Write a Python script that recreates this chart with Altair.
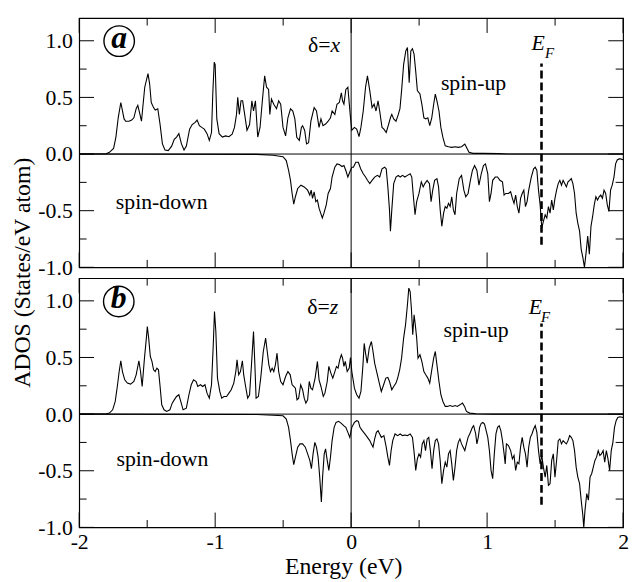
import altair as alt
import pandas as pd

# ---------------- axis ticks ----------------
x_major = [-2, -1, 0, 1, 2]
x_minor = [-1.5, -0.5, 0.5, 1.5]
y_major = [-1.0, -0.5, 0.0, 0.5, 1.0]
y_minor = [-0.75, -0.25, 0.25, 0.75]
E_F = 1.4
ef_span = [-0.8, 0.8]

# ---------------- panel (a): delta = x ----------------
a_up_E = [-2.0, -1.802, -1.778, -1.747, -1.730, -1.713, -1.694, -1.670, -1.658, -1.634, -1.614, -1.598,
          -1.581, -1.569, -1.557, -1.542, -1.518, -1.494, -1.482, -1.470, -1.453, -1.441, -1.422, -1.405,
          -1.388, -1.369, -1.345, -1.320, -1.301, -1.284, -1.267, -1.248, -1.229, -1.212, -1.188, -1.169,
          -1.147, -1.133, -1.116, -1.099, -1.080, -1.060, -1.043, -1.027, -1.017, -1.007, -1.000, -0.988,
          -0.971, -0.947, -0.923, -0.899, -0.875, -0.858, -0.843, -0.834, -0.822, -0.810, -0.798, -0.783,
          -0.766, -0.747, -0.730, -0.718, -0.704, -0.687, -0.670, -0.653, -0.636, -0.622, -0.607, -0.598,
          -0.586, -0.569, -0.549, -0.533, -0.518, -0.501, -0.482, -0.465, -0.446, -0.429, -0.414, -0.400,
          -0.381, -0.366, -0.357, -0.342, -0.328, -0.313, -0.296, -0.272, -0.255, -0.236, -0.222, -0.207,
          -0.188, -0.169, -0.152, -0.140, -0.120, -0.104, -0.087, -0.072, -0.063, -0.053, -0.039, -0.024,
          -0.007, 0.005, 0.024, 0.041, 0.058, 0.072, 0.089, 0.106, 0.120, 0.137, 0.154, 0.169, 0.183,
          0.198, 0.210, 0.227, 0.241, 0.258, 0.275, 0.289, 0.299, 0.313, 0.330, 0.347, 0.359, 0.371, 0.386,
          0.402, 0.414, 0.427, 0.439, 0.451, 0.463, 0.475, 0.487, 0.506, 0.520, 0.535, 0.549, 0.564, 0.578,
          0.593, 0.607, 0.619, 0.631, 0.646, 0.660, 0.675, 0.692, 0.716, 0.740, 0.764, 0.788, 0.812, 0.836,
          0.848, 0.867, 0.896, 0.969, 1.089, 1.149, 2.0]
a_up_v = [0.0, 0.003, 0.015, 0.05, 0.15, 0.32, 0.455, 0.31, 0.29, 0.29, 0.30, 0.32,
          0.40, 0.43, 0.37, 0.29, 0.59, 0.71, 0.62, 0.455, 0.41, 0.388, 0.40, 0.26,
          0.09, 0.035, 0.03, 0.07, 0.13, 0.15, 0.18, 0.09, 0.035, 0.07, 0.22, 0.26,
          0.28, 0.30, 0.25, 0.235, 0.22, 0.18, 0.12, 0.19, 0.55, 0.81, 0.79, 0.31,
          0.18, 0.15, 0.16, 0.153, 0.176, 0.235, 0.35, 0.50, 0.35, 0.47, 0.47, 0.35,
          0.21, 0.26, 0.47, 0.38, 0.47, 0.15, 0.235, 0.47, 0.69, 0.59, 0.57, 0.35,
          0.485, 0.44, 0.40, 0.47, 0.44, 0.235, 0.16, 0.32, 0.40, 0.38, 0.31, 0.147,
          0.12, 0.235, 0.25, 0.21, 0.09, 0.10, 0.29, 0.41, 0.38, 0.235, 0.31, 0.25,
          0.265, 0.29, 0.32, 0.38, 0.35, 0.44, 0.455, 0.54, 0.47, 0.44, 0.57, 0.59,
          0.35, 0.21, 0.235, 0.22, 0.153, 0.235, 0.38, 0.59, 0.69, 0.56, 0.41, 0.44, 0.38,
          0.47, 0.38, 0.235, 0.22, 0.19, 0.26, 0.32, 0.35, 0.31, 0.29, 0.35, 0.40, 0.56, 0.79,
          0.91, 0.94, 0.63, 0.91, 0.93, 0.88, 0.73, 0.56, 0.53, 0.44, 0.32, 0.31, 0.32, 0.25,
          0.32, 0.44, 0.53, 0.47, 0.38, 0.235, 0.147, 0.073, 0.065, 0.059, 0.065, 0.059, 0.065, 0.088,
          0.059, 0.015, 0.006, 0.006, 0.004, 0.0, 0.0]

a_dn_E = [-2.0, -0.694, -0.573, -0.501, -0.477, -0.460, -0.446, -0.434, -0.422, -0.410, -0.393, -0.369,
          -0.345, -0.320, -0.304, -0.294, -0.284, -0.272, -0.260, -0.248, -0.236, -0.224, -0.212, -0.200,
          -0.183, -0.169, -0.152, -0.140, -0.120, -0.104, -0.087, -0.067, -0.053, -0.039, -0.024, -0.010,
          0.005, 0.017, 0.034, 0.053, 0.070, 0.089, 0.106, 0.120, 0.137, 0.154, 0.173, 0.193, 0.210, 0.227,
          0.246, 0.258, 0.270, 0.282, 0.289, 0.299, 0.313, 0.330, 0.347, 0.361, 0.378, 0.395, 0.414, 0.434,
          0.446, 0.458, 0.470, 0.482, 0.499, 0.516, 0.530, 0.542, 0.559, 0.576, 0.588, 0.600, 0.614, 0.631,
          0.643, 0.655, 0.667, 0.680, 0.692, 0.704, 0.716, 0.728, 0.740, 0.752, 0.764, 0.776, 0.795, 0.812,
          0.829, 0.843, 0.860, 0.877, 0.892, 0.908, 0.925, 0.940, 0.957, 0.973, 0.988, 1.005, 1.017, 1.029,
          1.041, 1.060, 1.077, 1.094, 1.113, 1.125, 1.137, 1.157, 1.173, 1.186, 1.198, 1.210, 1.222, 1.234,
          1.246, 1.258, 1.270, 1.282, 1.294, 1.306, 1.325, 1.342, 1.354, 1.366, 1.378, 1.390, 1.402, 1.414,
          1.427, 1.439, 1.451, 1.463, 1.475, 1.487, 1.499, 1.511, 1.523, 1.535, 1.547, 1.559, 1.571, 1.583,
          1.595, 1.607, 1.619, 1.631, 1.643, 1.655, 1.667, 1.680, 1.692, 1.704, 1.716, 1.728, 1.740, 1.752,
          1.764, 1.776, 1.788, 1.800, 1.812, 1.824, 1.836, 1.848, 1.860, 1.872, 1.884, 1.896, 1.908, 1.920,
          1.933, 1.945, 1.957, 1.971, 1.981, 2.0]
a_dn_v = [0.0, -0.003, -0.01, -0.023, -0.058, -0.145, -0.232, -0.348, -0.443, -0.377, -0.304, -0.275,
          -0.29, -0.319, -0.362, -0.319, -0.391, -0.333, -0.42, -0.406, -0.478, -0.522, -0.565, -0.522,
          -0.449, -0.348, -0.304, -0.203, -0.116, -0.087, -0.093, -0.11, -0.101, -0.145, -0.203, -0.159,
          -0.116, -0.116, -0.072, -0.072, -0.130, -0.174, -0.203, -0.232, -0.261, -0.232, -0.203, -0.188, -0.203, -0.130,
          -0.116, -0.130, -0.290, -0.493, -0.681, -0.493, -0.261, -0.203, -0.188, -0.203, -0.188, -0.203, -0.188, -0.174,
          -0.203, -0.377, -0.536, -0.42, -0.348, -0.246, -0.290, -0.261, -0.232, -0.261, -0.420, -0.319, -0.232, -0.217,
          -0.290, -0.493, -0.638, -0.522, -0.464, -0.478, -0.435, -0.464, -0.377, -0.493, -0.536, -0.348, -0.217, -0.188,
          -0.319, -0.377, -0.348, -0.232, -0.145, -0.101, -0.145, -0.275, -0.174, -0.101, -0.087, -0.174, -0.420, -0.348,
          -0.232, -0.203, -0.203, -0.232, -0.246, -0.362, -0.348, -0.348, -0.333, -0.391, -0.435, -0.362, -0.464, -0.522,
          -0.391, -0.348, -0.319, -0.464, -0.420, -0.319, -0.203, -0.130, -0.116, -0.145, -0.319, -0.449, -0.652, -0.594,
          -0.536, -0.565, -0.464, -0.522, -0.406, -0.493, -0.391, -0.319, -0.261, -0.232, -0.275, -0.232, -0.261, -0.290,
          -0.246, -0.232, -0.217, -0.261, -0.348, -0.522, -0.609, -0.681, -0.841, -0.913, -1.0, -0.870, -0.725, -0.884,
          -0.638, -0.551, -0.449, -0.377, -0.406, -0.377, -0.362, -0.391, -0.319, -0.348, -0.449, -0.507, -0.319, -0.275,
          -0.203, -0.087, -0.052, -0.043, -0.043, -0.05]

# ---------------- panel (b): delta = z ----------------
b_up_E = [-2.0, -1.802, -1.778, -1.754, -1.735, -1.718, -1.706, -1.694, -1.682, -1.665, -1.646, -1.622,
          -1.598, -1.581, -1.561, -1.549, -1.537, -1.520, -1.506, -1.499, -1.489, -1.477, -1.465, -1.453,
          -1.441, -1.429, -1.417, -1.405, -1.393, -1.376, -1.357, -1.333, -1.316, -1.301, -1.284, -1.267,
          -1.253, -1.236, -1.212, -1.193, -1.176, -1.159, -1.140, -1.128, -1.108, -1.092, -1.075, -1.060,
          -1.043, -1.027, -1.014, -1.005, -0.995, -0.983, -0.966, -0.952, -0.935, -0.916, -0.899, -0.882,
          -0.863, -0.848, -0.839, -0.827, -0.814, -0.800, -0.790, -0.776, -0.761, -0.747, -0.733, -0.718,
          -0.708, -0.699, -0.682, -0.665, -0.646, -0.629, -0.617, -0.605, -0.593, -0.581, -0.569, -0.557,
          -0.545, -0.533, -0.518, -0.501, -0.482, -0.465, -0.448, -0.434, -0.422, -0.410, -0.398, -0.386,
          -0.371, -0.357, -0.345, -0.333, -0.320, -0.308, -0.296, -0.284, -0.265, -0.248, -0.236, -0.222,
          -0.205, -0.193, -0.176, -0.164, -0.149, -0.135, -0.123, -0.108, -0.096, -0.084, -0.072, -0.063,
          -0.053, -0.043, -0.029, -0.014, -0.005, 0.005, 0.024, 0.041, 0.058, 0.072, 0.087, 0.096, 0.106,
          0.118, 0.133, 0.149, 0.161, 0.173, 0.193, 0.210, 0.222, 0.239, 0.255, 0.270, 0.282, 0.299, 0.313,
          0.330, 0.342, 0.357, 0.371, 0.386, 0.400, 0.414, 0.424, 0.434, 0.443, 0.453, 0.463, 0.472, 0.482,
          0.492, 0.506, 0.520, 0.535, 0.549, 0.564, 0.578, 0.593, 0.607, 0.619, 0.631, 0.646, 0.660, 0.675,
          0.692, 0.708, 0.728, 0.747, 0.764, 0.781, 0.800, 0.819, 0.834, 0.848, 0.872, 0.920, 1.041, 2.0]
b_up_v = [0.0, 0.003, 0.009, 0.038, 0.112, 0.259, 0.376, 0.471, 0.376, 0.303, 0.274, 0.265,
          0.288, 0.347, 0.471, 0.376, 0.244, 0.494, 0.671, 0.774, 0.671, 0.509, 0.465, 0.391,
          0.376, 0.406, 0.391, 0.244, 0.082, 0.038, 0.024, 0.038, 0.097, 0.126, 0.156, 0.171,
          0.112, 0.038, 0.053, 0.171, 0.259, 0.303, 0.288, 0.244, 0.259, 0.244, 0.259, 0.185,
          0.141, 0.259, 0.612, 0.906, 0.729, 0.318, 0.200, 0.141, 0.156, 0.156, 0.185, 0.215,
          0.274, 0.376, 0.479, 0.347, 0.376, 0.471, 0.347, 0.244, 0.141, 0.171, 0.435, 0.729,
          0.435, 0.141, 0.156, 0.318, 0.553, 0.671, 0.553, 0.435, 0.376, 0.406, 0.376, 0.435,
          0.538, 0.376, 0.288, 0.259, 0.332, 0.376, 0.347, 0.259, 0.244, 0.229, 0.126, 0.141,
          0.259, 0.215, 0.141, 0.097, 0.126, 0.288, 0.229, 0.215, 0.318, 0.465, 0.303, 0.244,
          0.156, 0.185, 0.288, 0.421, 0.362, 0.318, 0.362, 0.421, 0.406, 0.479, 0.524, 0.494,
          0.421, 0.465, 0.376, 0.406, 0.500, 0.376, 0.229, 0.171, 0.141, 0.200, 0.435, 0.624, 0.538,
          0.450, 0.582, 0.641, 0.553, 0.450, 0.347, 0.259, 0.200, 0.259, 0.318, 0.324, 0.288, 0.215, 0.244,
          0.274, 0.318, 0.391, 0.494, 0.671, 0.788, 0.965, 1.112, 1.082, 0.935, 0.700, 0.876, 0.788, 0.671,
          0.494, 0.524, 0.465, 0.376, 0.347, 0.318, 0.274, 0.391, 0.494, 0.553, 0.435, 0.288, 0.171, 0.112,
          0.068, 0.068, 0.076, 0.068, 0.076, 0.068, 0.082, 0.097, 0.068, 0.024, 0.009, 0.003, 0.0, 0.0]

b_dn_E = [-2.0, -0.694, -0.573, -0.501, -0.477, -0.460, -0.446, -0.434, -0.422, -0.410, -0.393, -0.376,
          -0.357, -0.337, -0.320, -0.304, -0.292, -0.280, -0.267, -0.255, -0.243, -0.231, -0.219, -0.210,
          -0.198, -0.188, -0.176, -0.164, -0.152, -0.140, -0.125, -0.111, -0.092, -0.072, -0.055, -0.039,
          -0.024, -0.010, 0.005, 0.024, 0.041, 0.053, 0.065, 0.082, 0.101, 0.120, 0.137, 0.149, 0.161, 0.173,
          0.186, 0.198, 0.210, 0.222, 0.241, 0.258, 0.270, 0.282, 0.294, 0.306, 0.323, 0.342, 0.361, 0.378,
          0.395, 0.414, 0.434, 0.451, 0.463, 0.475, 0.487, 0.499, 0.511, 0.523, 0.535, 0.547, 0.559, 0.571,
          0.583, 0.595, 0.607, 0.619, 0.631, 0.643, 0.655, 0.667, 0.680, 0.692, 0.704, 0.716, 0.728, 0.740,
          0.752, 0.764, 0.776, 0.788, 0.800, 0.812, 0.824, 0.836, 0.848, 0.860, 0.872, 0.892, 0.901, 0.916,
          0.925, 0.935, 0.945, 0.957, 0.969, 0.981, 0.993, 1.005, 1.017, 1.029, 1.041, 1.053, 1.065, 1.077,
          1.089, 1.101, 1.113, 1.125, 1.133, 1.142, 1.157, 1.173, 1.186, 1.198, 1.210, 1.222, 1.234, 1.246,
          1.258, 1.270, 1.282, 1.294, 1.306, 1.318, 1.330, 1.342, 1.354, 1.366, 1.378, 1.390, 1.402, 1.414,
          1.427, 1.439, 1.451, 1.463, 1.475, 1.487, 1.499, 1.511, 1.523, 1.535, 1.547, 1.559, 1.571, 1.583,
          1.595, 1.607, 1.619, 1.631, 1.643, 1.655, 1.667, 1.680, 1.692, 1.704, 1.711, 1.720, 1.733, 1.745,
          1.757, 1.769, 1.781, 1.793, 1.805, 1.817, 1.829, 1.841, 1.853, 1.865, 1.877, 1.889, 1.901, 1.913,
          1.925, 1.937, 1.949, 1.961, 1.976, 2.0]
b_dn_v = [0.0, -0.003, -0.01, -0.015, -0.044, -0.117, -0.234, -0.351, -0.447, -0.380, -0.292, -0.263,
          -0.263, -0.292, -0.351, -0.409, -0.482, -0.351, -0.249, -0.292, -0.380, -0.556, -0.775, -0.556,
          -0.351, -0.307, -0.409, -0.497, -0.380, -0.234, -0.117, -0.073, -0.064, -0.082, -0.102, -0.117,
          -0.161, -0.205, -0.117, -0.073, -0.058, -0.064, -0.117, -0.146, -0.175, -0.205, -0.234, -0.263, -0.292, -0.219,
          -0.161, -0.146, -0.175, -0.205, -0.190, -0.292, -0.380, -0.453, -0.322, -0.234, -0.175, -0.190, -0.175, -0.190,
          -0.184, -0.190, -0.175, -0.205, -0.336, -0.497, -0.395, -0.351, -0.380, -0.263, -0.234, -0.322, -0.219, -0.205,
          -0.322, -0.482, -0.322, -0.234, -0.219, -0.263, -0.409, -0.614, -0.497, -0.424, -0.468, -0.351, -0.322, -0.439,
          -0.585, -0.468, -0.322, -0.249, -0.219, -0.263, -0.292, -0.322, -0.263, -0.205, -0.175, -0.117, -0.102, -0.175,
          -0.263, -0.205, -0.117, -0.082, -0.073, -0.088, -0.146, -0.205, -0.322, -0.497, -0.570, -0.351, -0.175, -0.117,
          -0.102, -0.146, -0.234, -0.351, -0.439, -0.263, -0.278, -0.322, -0.395, -0.365, -0.497, -0.424, -0.439, -0.292,
          -0.205, -0.292, -0.351, -0.468, -0.292, -0.205, -0.175, -0.132, -0.102, -0.161, -0.322, -0.439, -0.365, -0.468,
          -0.556, -0.453, -0.629, -0.614, -0.409, -0.351, -0.556, -0.409, -0.234, -0.219, -0.263, -0.234, -0.249, -0.263,
          -0.234, -0.190, -0.205, -0.234, -0.322, -0.468, -0.556, -0.614, -0.760, -0.892, -1.0, -0.848, -0.702, -0.760,
          -0.556, -0.526, -0.468, -0.409, -0.380, -0.322, -0.365, -0.351, -0.322, -0.424, -0.322, -0.395, -0.497, -0.322,
          -0.249, -0.117, -0.058, -0.029, -0.023, -0.03]

# ---------------- annotations (data coordinates) ----------------
panel_letters = ["a", "b"]
delta_axis = ["x", "z"]
letter_pos = [(-1.706, 0.997), (-1.709, 0.994)]
delta_pos = [(-0.151, 0.903), (-0.158, 0.883)]
spinup_pos = [(0.900, 0.568), (0.919, 0.679)]
spindown_pos = [(-1.393, -0.487), (-1.388, -0.458)]
ef_E_pos = [(1.326, 0.918), (1.307, 0.883)]
ef_F_pos = [(1.425, 0.848), (1.397, 0.81)]

W, H = 550, 252
FONT = "Liberation Serif"
xs = alt.Scale(domain=[-2, 2], nice=False, zero=False)
ys = alt.Scale(domain=[-1.0, 1.2], nice=False, zero=False)
MAJ, MIN = 15, 7.5
NEG_X = "datum.value < 0 ? '-' + format(-datum.value, 'd') : format(datum.value, 'd')"
NEG_Y = "datum.value < 0 ? '-' + format(-datum.value, '.1f') : format(datum.value, '.1f')"


def make_panel(i, up_E, up_v, dn_E, dn_v, bottom):
    if bottom:
        xaxis = alt.Axis(values=x_major, labelExpr=NEG_X, labelFlush=False, ticks=False, tickSize=0,
                         domain=False, grid=False, labelPadding=4, title="Energy (eV)", titlePadding=3,
                         titleX=W / 2 - 8, titleAlign="center")
        yaxis = alt.Axis(values=y_major, labelExpr=NEG_Y, ticks=False, tickSize=0, domain=False, grid=False,
                         labelPadding=7, title="ADOS (States/eV atom)", titleX=-45, titleY=-6, titleAngle=270,
                         titleAlign="center", titleBaseline="bottom")
    else:
        xaxis = alt.Axis(values=x_major, labels=False, ticks=False, tickSize=0, domain=False, grid=False, title=None)
        yaxis = alt.Axis(values=y_major, labelExpr=NEG_Y, ticks=False, tickSize=0, domain=False, grid=False,
                         labelPadding=7, title=None)

    def X(f):
        return alt.X(f, type="quantitative", scale=xs, axis=xaxis)

    def Y(f):
        return alt.Y(f, type="quantitative", scale=ys, axis=yaxis)

    curve = pd.DataFrame({
        "E": list(up_E) + list(dn_E),
        "ADOS": list(up_v) + list(dn_v),
        "spin": ["up"] * len(up_E) + ["down"] * len(dn_E),
    })
    lines = alt.Chart(curve).mark_line(color="black", strokeWidth=1.1, clip=True).encode(
        x=X("E"), y=Y("ADOS"), detail="spin:N")

    layers = []
    for vals, L in ((x_major, MAJ), (x_minor, MIN)):
        d = pd.DataFrame({"t": vals})
        layers.append(alt.Chart(d).mark_rule(color="black", strokeWidth=1).encode(
            x=X("t"), y=alt.value(H), y2=alt.value(H - L)))
        layers.append(alt.Chart(d).mark_rule(color="black", strokeWidth=1).encode(
            x=X("t"), y=alt.value(0), y2=alt.value(L)))
    for vals, L in ((y_major, MAJ), (y_minor, MIN)):
        d = pd.DataFrame({"t": vals})
        layers.append(alt.Chart(d).mark_rule(color="black", strokeWidth=1).encode(
            y=Y("t"), x=alt.value(0), x2=alt.value(L)))
        layers.append(alt.Chart(d).mark_rule(color="black", strokeWidth=1).encode(
            y=Y("t"), x=alt.value(W), x2=alt.value(W - L)))

    zero = pd.DataFrame({"z": [0.0]})
    layers.append(alt.Chart(zero).mark_rule(color="black", strokeWidth=1).encode(y=Y("z")))
    layers.append(alt.Chart(zero).mark_rule(color="black", strokeWidth=1).encode(x=X("z")))
    layers.append(lines)

    ef = pd.DataFrame({"x": [E_F], "y1": [ef_span[0]], "y2": [ef_span[1]]})
    layers.append(alt.Chart(ef).mark_rule(color="black", strokeWidth=2.6, strokeDash=[8, 4]).encode(
        x=X("x"), y=Y("y1"), y2="y2"))

    lp = pd.DataFrame({"x": [letter_pos[i][0]], "y": [letter_pos[i][1]], "t": [panel_letters[i]]})
    layers.append(alt.Chart(lp).mark_point(shape="circle", size=950, filled=False, color="black",
                                            strokeWidth=1.4, opacity=1).encode(x=X("x"), y=Y("y")))
    layers.append(alt.Chart(lp).mark_text(font=FONT, fontSize=32, fontStyle="italic", fontWeight="bold",
                                           baseline="alphabetic", align="center", dy=7, color="black").encode(
        x=X("x"), y=Y("y"), text="t:N"))

    def label(pos, txt, align="center", size=22, style="normal"):
        d = pd.DataFrame({"x": [pos[0]], "y": [pos[1]], "t": [txt]})
        return alt.Chart(d).mark_text(font=FONT, fontSize=size, fontStyle=style, baseline="alphabetic",
                                      align=align, color="black").encode(x=X("x"), y=Y("y"), text="t:N")

    layers.append(label(delta_pos[i], "δ=", align="right"))
    layers.append(label(delta_pos[i], delta_axis[i], align="left", style="italic"))
    layers.append(label(spinup_pos[i], "spin-up"))
    layers.append(label(spindown_pos[i], "spin-down"))
    layers.append(label(ef_E_pos[i], "E", align="left", size=22, style="italic"))
    layers.append(label(ef_F_pos[i], "F", align="left", size=15, style="italic"))

    return alt.layer(*layers).properties(width=W, height=H)


top = make_panel(0, a_up_E, a_up_v, a_dn_E, a_dn_v, bottom=False)
bot = make_panel(1, b_up_E, b_up_v, b_dn_E, b_dn_v, bottom=True)

chart = alt.vconcat(top, bot, spacing=11, bounds="flush").properties(
    padding={"left": 2, "top": 5, "right": 0, "bottom": 0}
).configure(background="white").configure_view(stroke="black", strokeWidth=1.2).configure_axis(
    labelFont=FONT, labelFontSize=22, labelColor="black",
    titleFont=FONT, titleFontSize=24, titleFontWeight="normal", titleColor="black"
)

chart.save("out.html", embed_options={"renderer": "svg", "actions": False})
